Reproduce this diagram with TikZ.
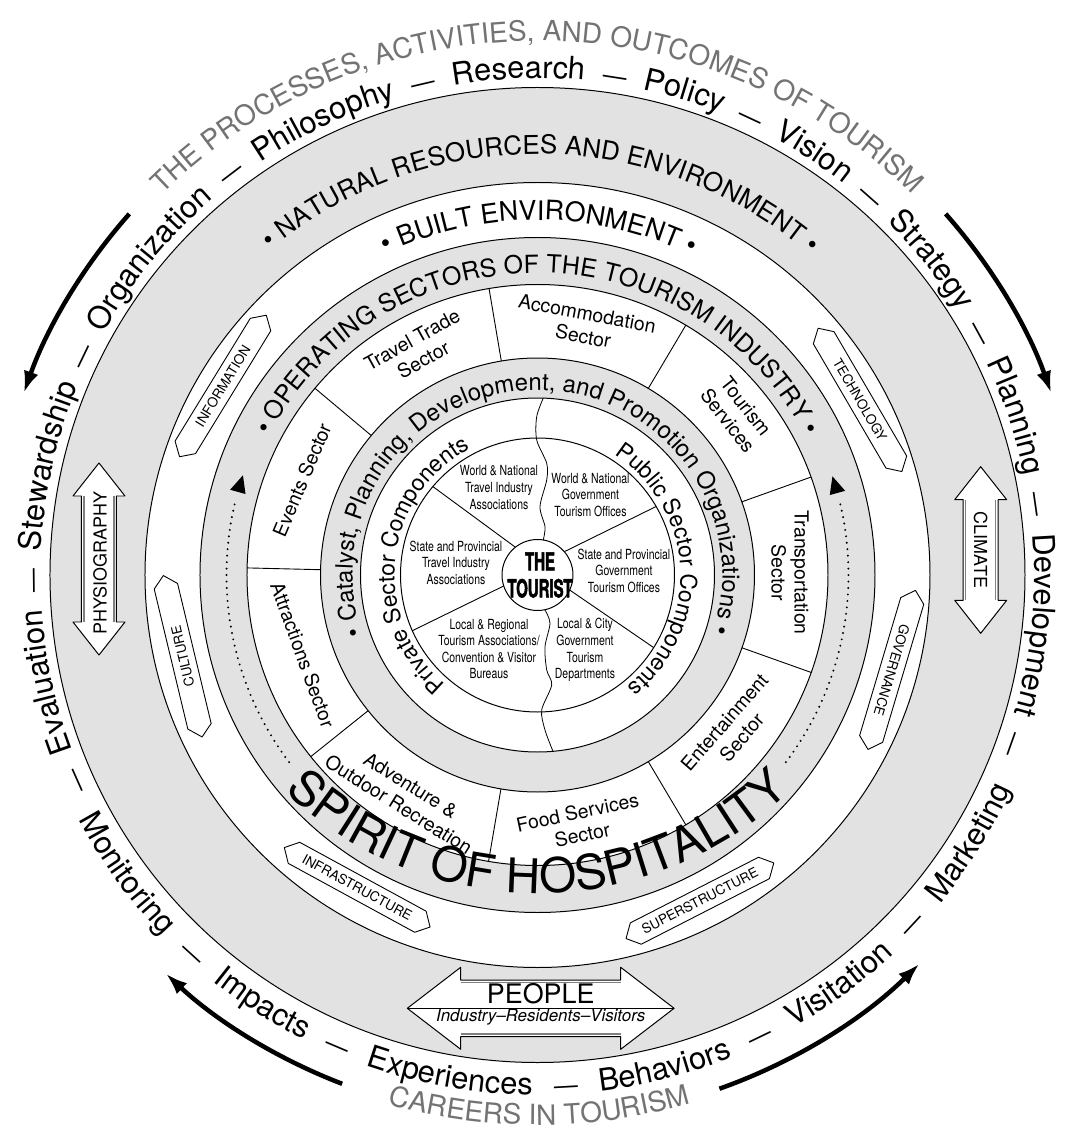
\documentclass[tikz,border=0pt]{standalone}
\usepackage{fontspec}
\setmainfont{TeX Gyre Heros}
\newfontfamily\narrowfont[FakeStretch=0.75]{TeX Gyre Heros}
\newfontfamily\tourfont[FakeStretch=0.6,BoldFeatures={FakeBold=2}]{TeX Gyre Heros}
\newfontfamily\spiritfont[FakeStretch=1.0]{TeX Gyre Heros}
\usetikzlibrary{decorations.text,arrows.meta}
\definecolor{ringgray}{gray}{0.885}
\definecolor{txtgray}{gray}{0.45}
\newcommand\fouter{\fontsize{31}{31}\selectfont}
\newcommand\fdash{\fontsize{24}{24}\selectfont}
\newcommand\fgray{\fontsize{28}{28}\selectfont}
\newcommand\fnat{\fontsize{26}{26}\selectfont}
\newcommand\fbuilt{\fontsize{27}{27}\selectfont}
\newcommand\fops{\fontsize{25}{25}\selectfont}
\newcommand\fcat{\fontsize{24}{24}\selectfont}
\newcommand\fpriv{\fontsize{23}{23}\selectfont}
\newcommand\fspirit{\spiritfont\fontsize{48}{48}\selectfont}
\newcommand\secfont{\fontsize{19.5}{23}\selectfont}
\newcommand\diskfont{\narrowfont\fontsize{14}{16.7}\selectfont}
\newcommand\tagfont{\fontsize{13.5}{14}\selectfont}
\newcommand\cwtext[5]{\path[decorate,decoration={text along path,text align=center,text={|#4|#5}}] ({#2+#3}:#1) arc[start angle={#2+#3},end angle={#2-#3},radius=#1];}
\newcommand\ccwtext[5]{\path[decorate,decoration={text along path,text align=center,text={|#4|#5}}] ({#2-#3}:#1) arc[start angle={#2-#3},end angle={#2+#3},radius=#1];}
\newcommand\tagshape[5]{%
\begin{scope}[shift={(#1:#2)},rotate=#3]
\draw[fill=white,line width=0.9] (-83,0) -- (-72,12) -- (72,12) -- (83,0) -- (72,-12) -- (-72,-12) -- cycle;
\node[transform shape,font=\tagfont,inner sep=0] (#4) at (0,0) {#5};
\end{scope}}
\tikzset{ring/.style={line width=1},secl/.style={font=\secfont,align=center,inner sep=0},
 diskl/.style={font=\diskfont,align=center,inner sep=0},
 bigarrow/.style={line width=4.5,-{Latex[length=22pt,width=15pt]}},
 dots/.style={line width=2.2,dash pattern=on 0pt off 6.5pt,line cap=round}}
\begin{document}
\begin{tikzpicture}[x=1bp,y=1bp,line join=round]
\useasboundingbox (-537.5,-561) rectangle (529.5,575);
\fill[white] (-537.5,-561) rectangle (529.5,575);
% rings
\draw[ring,fill=ringgray] (0,0) circle[radius=487.5];
\draw[ring,fill=white] (0,0) circle[radius=392.5];
\draw[ring,fill=ringgray] (0,0) circle[radius=337.5];
\draw[ring,fill=white] (0,0) circle[radius=290.5];
\draw[ring,fill=ringgray] (0,0) circle[radius=217];
\draw[ring,fill=white] (0,0) circle[radius=177];
\draw[ring] (0,0) circle[radius=137];
% sector dividers
\foreach \a in {178.6,140,99.6,59.3,19.7,-19.6,-59.3,-99.7,-141.3}
  \draw[line width=0.9] (\a:217) -- (\a:290.5);
% inner disk dividers
\draw[line width=0.9] (128.5:35.5) -- (139.8:137);
\draw[line width=0.9] (198:35.5) -- (204:137);
\draw[line width=0.9] (41:35.5) -- (30:137);
\draw[line width=0.9] (-25:35.5) -- (-32:137);
% wavy line
\draw[line width=0.8] plot[smooth] coordinates {(5.8,177) (-0.8,158.3) (-0.8,135) (9.2,111.7) (9.2,95) (2.5,68.3) (7.5,48.3) (5.8,35)};
\draw[line width=0.8] plot[smooth] coordinates {(7.5,-35) (12.5,-48.3) (7.5,-71.7) (9.2,-95) (14.2,-110) (4.2,-135) (7.5,-155) (15.8,-177)};
\draw[ring,fill=white] (0,0) circle[radius=35.5];
\node[font=\tourfont\bfseries\fontsize{25}{27}\selectfont,align=center,inner sep=0] (tourist) at (2.5,0) {THE\\TOURIST};
% disk labels
\node[diskl] (d1) at (-38.5,87.5) {World \& National\\Travel Industry\\Associations};
\node[diskl] (d2) at (53,80) {World \& National\\Government\\Tourism Offices};
\node[diskl] (d3) at (-81.5,12.3) {State and Provincial\\Travel Industry\\Associations};
\node[diskl] (d4) at (86.5,4.3) {State and Provincial\\Government\\Tourism Offices};
\node[diskl] (d5) at (-48.5,-74) {Local \& Regional\\Tourism Associations/\\Convention \& Visitor\\Bureaus};
\node[diskl] (d6) at (47.5,-75) {Local \& City\\Government\\Tourism\\Departments};
% sector labels
\node[secl,rotate=-10.5] (s1) at (79.2:254.5) {Accommodation\\Sector};
\node[secl,rotate=29] (s2) at (118:255) {Travel Trade\\Sector};
\node[secl,rotate=67] (s3) at (158:254) {Events Sector};
\node[secl,rotate=-70] (s4) at (198.8:248) {Attractions Sector};
\node[secl,rotate=-32] (s5) at (238.9:257) {Adventure \&\\Outdoor Recreation};
\node[secl,rotate=12] (s6) at (279.7:252) {Food Services\\Sector};
\node[secl,rotate=49] (s7) at (321.6:249.5) {Entertainment\\Sector};
\node[secl,rotate=-90] (s8) at (0.5:252.5) {Transportation\\Sector};
\node[secl,rotate=-52] (s9) at (39:256.5) {Tourism\\Services};
% tags
\tagshape{149}{367}{58.5}{tinfo}{INFORMATION}
\tagshape{192.9}{364}{103.5}{tcult}{CULTURE}
\tagshape{28.5}{367}{-59.7}{ttech}{TECHNOLOGY}
\tagshape{-15}{366.7}{-106.6}{tgov}{GOVERNANCE}
\tagshape{240}{360.6}{-28.6}{tinfra}{INFRASTRUCTURE}
\tagshape{-63.5}{364}{27.1}{tsuper}{SUPERSTRUCTURE}
% physiography arrow
\begin{scope}[shift={(-438.5,16)}]
\draw[fill=white,line width=1] (0,96) -- (26,63) -- (17.5,63) -- (17.5,-63) -- (26,-63) -- (0,-96) -- (-26,-63) -- (-17.5,-63) -- (-17.5,63) -- (-26,63) -- cycle;
\draw[gray,line width=1.4] (-15,63) -- (-15,-63) (15,63) -- (15,-63);
\node[rotate=90,font=\fontsize{18}{18}\selectfont,inner sep=0] (phys) at (1,-4) {PHYSIOGRAPHY};
\end{scope}
% climate arrow
\begin{scope}[shift={(443.2,25)}]
\draw[fill=white,line width=1] (0,83.3) -- (26,50.3) -- (17.5,50.3) -- (17.5,-50.3) -- (26,-50.3) -- (0,-83.3) -- (-26,-50.3) -- (-17.5,-50.3) -- (-17.5,50.3) -- (-26,50.3) -- cycle;
\draw[gray,line width=1.4] (-15,50.3) -- (-15,-50.3) (15,50.3) -- (15,-50.3);
\node[rotate=-90,font=\fontsize{18}{18}\selectfont,inner sep=0] (clim) at (0,0) {CLIMATE};
\end{scope}
% people arrow
\begin{scope}[shift={(3.2,-433.3)}]
\draw[fill=white,line width=1] (-133.4,0) -- (-80,41) -- (-80,28.3) -- (80,28.3) -- (80,41) -- (133.4,0) -- (80,-41) -- (80,-28.3) -- (-80,-28.3) -- (-80,-41) -- cycle;
\draw[gray,line width=1.4] (-80,25.8) -- (80,25.8) (-80,-25.8) -- (80,-25.8);
\draw[line width=0.9] (-133.4,0) -- (133.4,0);
\node[font=\fontsize{27}{27}\selectfont,inner sep=0] (people) at (0,15) {PEOPLE};
\node[font=\itshape\fontsize{17}{17}\selectfont,inner sep=0] (irv) at (0,-9) {Industry–Residents–Visitors};
\end{scope}
% dotted arrows
\draw[dots] (217:311) arc[start angle=217,end angle=165.8,radius=311];
\fill (161.3:311) -- (164.5:303) -- (164.5:319) -- cycle;
\draw[dots] (-37:311) arc[start angle=-37,end angle=14.3,radius=311];
\fill (18.5:311) -- (15.3:303) -- (15.3:319) -- cycle;
% big black arrows
\draw[bigarrow] (138.5:545) arc[start angle=138.5,end angle=160.5,radius=545];
\draw[bigarrow] (41.5:545) arc[start angle=41.5,end angle=19.5,radius=545];
\draw[bigarrow] (249:545) arc[start angle=249,end angle=227,radius=545];
\draw[bigarrow] (289.5:545) arc[start angle=289.5,end angle=314.5,radius=545];
% ring texts
\cwtext{421}{89.5}{55}{\fnat}{• NATURAL RESOURCES AND ENVIRONMENT •}
\cwtext{355}{89.75}{40}{\fbuilt}{• BUILT ENVIRONMENT •}
\cwtext{302}{90}{75}{\fops}{• OPERATING SECTORS OF THE TOURISM INDUSTRY •}
\cwtext{185}{90.3}{120}{\fcat}{• Catalyst, Planning, Development, and Promotion Organizations •}
\cwtext{143}{174}{70}{\fpriv}{Private Sector Components}
\cwtext{143}{3}{70}{\fpriv}{Public Sector Components}
% spirit of hospitality on a flatter arc
\path[shift={(0,48)},decorate,decoration={text along path,text align=center,text={|\fspirit|SPIRIT OF HOSPITALITY}}] (218:366) arc[start angle=218,end angle=322,radius=366];
% gray outer texts
\cwtext{534}{90}{60}{\fgray\color{txtgray}}{THE PROCESSES, ACTIVITIES, AND OUTCOMES OF TOURISM}
\ccwtext{550}{270.2}{30}{\fgray\color{txtgray}}{CAREERS IN TOURISM}
% outer word ring (clockwise, tops outward)
\cwtext{497}{204.0}{8}{\fdash}{—}
\cwtext{497}{192.32}{20}{\fouter}{Evaluation}
\cwtext{497}{180.64}{8}{\fdash}{—}
\cwtext{497}{167.45}{20}{\fouter}{Stewardship}
\cwtext{497}{154.27}{8}{\fdash}{—}
\cwtext{497}{140.78}{20}{\fouter}{Organization}
\cwtext{497}{127.3}{8}{\fdash}{—}
\cwtext{497}{115.22}{20}{\fouter}{Philosophy}
\cwtext{497}{103.13}{8}{\fdash}{—}
\cwtext{497}{92.15}{20}{\fouter}{Research}
\cwtext{497}{81.17}{8}{\fdash}{—}
\cwtext{497}{73.08}{20}{\fouter}{Policy}
\cwtext{497}{65.0}{8}{\fdash}{—}
\cwtext{497}{56.82}{20}{\fouter}{Vision}
\cwtext{497}{48.63}{8}{\fdash}{—}
\cwtext{497}{38.65}{20}{\fouter}{Strategy}
\cwtext{497}{28.67}{8}{\fdash}{—}
\cwtext{497}{18.38}{20}{\fouter}{Planning}
\cwtext{497}{8.1}{8}{\fdash}{—}
\cwtext{497}{-5.76}{20}{\fouter}{Development}
\cwtext{497}{-19.62}{8}{\fdash}{—}
% outer word ring (bottom, tops inward)
\ccwtext{520}{216}{20}{\fouter}{Monitoring}
\ccwtext{520}{227.66}{8}{\fdash}{—}
\ccwtext{520}{237.33}{20}{\fouter}{Impacts}
\ccwtext{520}{247.0}{8}{\fdash}{—}
\ccwtext{520}{260.09}{20}{\fouter}{Experiences}
\ccwtext{520}{273.18}{8}{\fdash}{—}
\ccwtext{520}{284.47}{20}{\fouter}{Behaviors}
\ccwtext{520}{295.75}{8}{\fdash}{—}
\ccwtext{520}{306.37}{20}{\fouter}{Visitation}
\ccwtext{520}{316.99}{8}{\fdash}{—}
\ccwtext{520}{328.18}{20}{\fouter}{Marketing}
\end{tikzpicture}
\end{document}
